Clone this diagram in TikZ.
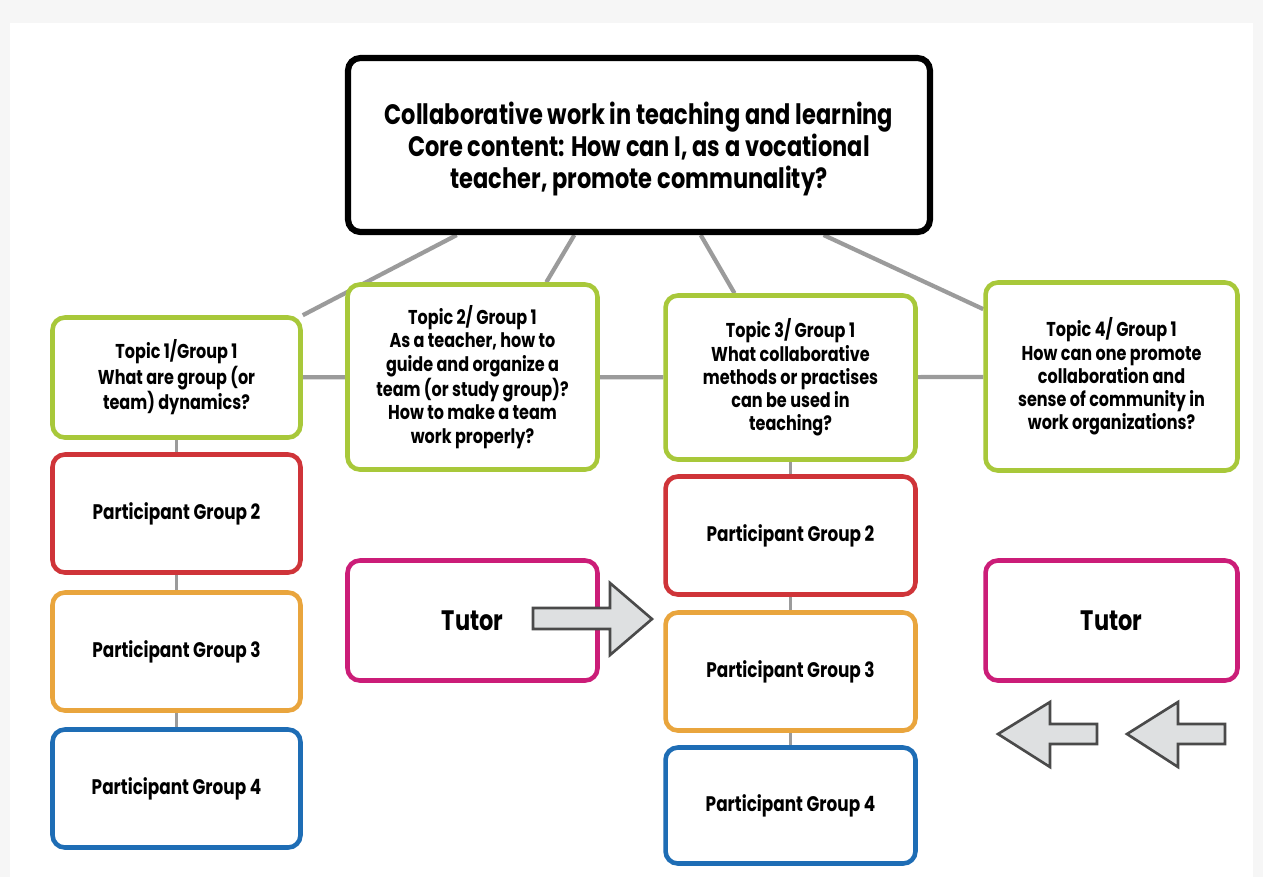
\documentclass[tikz,border=0pt]{standalone}
\usepackage{fontspec}
\setmainfont{Poppins}[FakeStretch=0.8]
\usetikzlibrary{calc, backgrounds}
\pgfdeclarelayer{fondo}
\pgfsetlayers{fondo,background,main}
\definecolor{verde}{HTML}{A8C83A}
\definecolor{rojo}{HTML}{CF3439}
\definecolor{naranja}{HTML}{E9A53D}
\definecolor{azul}{HTML}{1E6DB5}
\definecolor{fucsia}{HTML}{CB1D78}
\definecolor{gris}{HTML}{9B9B9B}
\definecolor{grisclaro}{HTML}{DEE0E1}
\definecolor{borde}{HTML}{4A4A4A}
\tikzset{
  caja/.style={draw, fill=white, line width=2.6pt, rounded corners=7pt, inner sep=0pt,
              align=center, font=\bfseries\fontsize{11.4}{13.2}\selectfont},
  central/.style={caja, draw=black, line width=3.5pt, minimum width=11.64cm, minimum height=3.48cm,
              font=\bfseries\fontsize{16}{18.4}\selectfont},
  tema/.style={caja, draw=verde},
  grupo/.style={caja, minimum width=4.96cm, minimum height=2.36cm, font=\bfseries\fontsize{12}{14}\selectfont},
  tutor/.style={caja, draw=fucsia, minimum height=2.4cm, font=\bfseries\fontsize{16}{18}\selectfont},
  rama/.style={gris, line width=2.4pt},
  enlace/.style={gris, line width=1.2pt},
  bloque/.style={fill=grisclaro, draw=borde, line width=1.5pt, line join=miter},
}

\begin{document}
\begin{tikzpicture}[x=0.02cm, y=-0.02cm]
  \useasboundingbox (0,0) rectangle (1263,877);
  \begin{pgfonlayer}{fondo}
    \fill[gray!7] (0,0) rectangle (1263,877);
    \fill[white] (10,23) rectangle (1253,877);
  \end{pgfonlayer}

  % core content
  \node[central] (C) at (639,145) {\rule{0pt}{17.5pt}Collaborative work in teaching and learning\\Core content: How can I, as a vocational\\teacher, promote communality?};

  % topics
  \node[tema, minimum width=4.96cm, minimum height=2.4cm] (T1) at (176.5,377.5) {Topic 1/Group 1\\What are group (or\\team) dynamics?};
  \node[tema, minimum width=5.0cm, minimum height=3.7cm] (T2) at (472.5,377) {Topic 2/ Group 1\\As a teacher, how to\\guide and organize a\\team (or study group)?\\How to make a team\\work properly?};
  \node[tema, minimum width=5.0cm, minimum height=3.28cm] (T3) at (790.5,377.5) {Topic 3/ Group 1\\What collaborative\\methods or practises\\can be used in\\teaching?};
  \node[tema, minimum width=5.04cm, minimum height=3.76cm] (T4) at (1111.5,376.5) {Topic 4/ Group 1\\How can one promote\\collaboration and\\sense of community in\\work organizations?};

  % participant groups under topic 1
  \node[grupo, draw=rojo] (P2) at (176.5,513.5) {Participant Group 2};
  \node[grupo, draw=naranja] (P3) at (176.5,651.5) {Participant Group 3};
  \node[grupo, draw=azul] (P4) at (176.5,788.5) {Participant Group 4};

  % participant groups under topic 3
  \node[grupo, draw=rojo, minimum width=5.0cm] (Q2) at (790.5,535.5) {Participant Group 2};
  \node[grupo, draw=naranja, minimum width=5.0cm] (Q3) at (790.5,671.5) {Participant Group 3};
  \node[grupo, draw=azul, minimum width=5.0cm, minimum height=2.32cm] (Q4) at (790.5,805.5) {Participant Group 4};

  % tutors
  \node[tutor, minimum width=5.0cm] (U1) at (472.5,620.5) {Tutor};
  \node[tutor, minimum width=5.04cm] (U2) at (1111.5,620.5) {Tutor};

  \begin{scope}[on background layer]
    \draw[rama] ($(C.south west)!0.19!(C.south east)$) -- (T1.north east);
    \draw[rama] ($(C.south west)!0.39!(C.south east)$) -- ($(T2.north west)!0.79!(T2.north east)$);
    \draw[rama] ($(C.south west)!0.605!(C.south east)$) -- ($(T3.north west)!0.28!(T3.north east)$);
    \draw[rama] ($(C.south west)!0.814!(C.south east)$) -- ($(T4.north west)!0.15!(T4.south west)$);
    \draw[rama] (T1) -- (T2) -- (T3) -- (T4);
    \draw[enlace] (T1) -- (P2) -- (P3) -- (P4);
    \draw[enlace] (T3) -- (Q2) -- (Q3) -- (Q4);
  \end{scope}

  % block arrows
  \draw[bloque] (533,608) -- (610,608) -- (610,583) -- (652,619) -- (610,655) -- (610,629) -- (533,629) -- cycle;
  \draw[bloque] (1097,724) -- (1050,724) -- (1050,702) -- (998,734) -- (1050,767) -- (1050,744) -- (1097,744) -- cycle;
  \draw[bloque] (1225,724) -- (1178,724) -- (1178,702) -- (1127,734) -- (1178,767) -- (1178,744) -- (1225,744) -- cycle;
\end{tikzpicture}
\end{document}
